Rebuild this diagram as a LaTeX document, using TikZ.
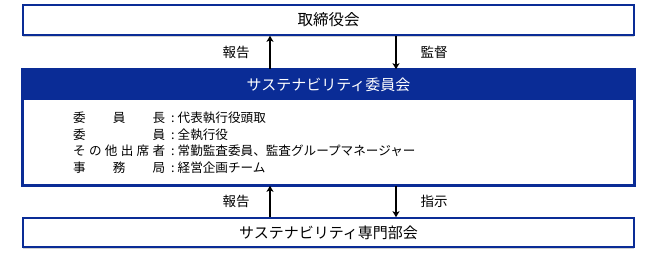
\documentclass[tikz,border=0pt]{standalone}
\usepackage{fontspec}
\usepackage{xcolor}
\usepackage{tikz}
\usetikzlibrary{arrows.meta,positioning,calc,shadows}
\setmainfont{Noto Sans CJK JP}
\definecolor{cmteblue}{RGB}{10,44,150}
\newcommand{\spreadbox}[1]{\makebox[92pt][s]{#1}}

\begin{document}
\begin{tikzpicture}[x=1pt, y=-1pt, >={Stealth[length=6pt,width=7pt,inset=1.5pt]},
    orgbox/.style={draw=cmteblue, line width=1.6pt, fill=white, minimum width=611pt,
      drop shadow={shadow xshift=0pt, shadow yshift=-1.6pt, fill=black!30, opacity=0.6}},
    arrlabel/.style={font=\fontsize{13.5}{16}\selectfont}]
  \useasboundingbox (0,0) rectangle (645,260);
  \node[orgbox, minimum height=30pt, font=\fontsize{15.5}{18}\selectfont] (board) at (328.5,20) {取締役会};
  \node[orgbox, minimum height=115pt] (cmte) at (328.5,127.5) {};
  \node[fill=cmteblue, text=white, minimum width=611pt, minimum height=31pt, anchor=north,
    inner sep=0pt, font=\fontsize{15}{18}\selectfont] (cmtehead) at (cmte.north) {サステナビリティ委員会};
  \draw[cmteblue, line width=1.6pt] (cmte.north west) rectangle (cmte.south east);
  \node[orgbox, minimum height=29pt, font=\fontsize{15}{18}\selectfont] (sub) at (328.5,232.5) {サステナビリティ専門部会};
  \node[anchor=west, align=left, inner sep=0pt, font=\fontsize{12.6}{16.5}\selectfont] (members) at (73,142.5)
    {\spreadbox{委\hfill 員\hfill 長}\hspace{6pt}:\hspace{3pt}代表執行役頭取\\
     \spreadbox{委\hfill 員}\hspace{6pt}:\hspace{3pt}全執行役\\
     \spreadbox{そ\hfill の\hfill 他\hfill 出\hfill 席\hfill 者}\hspace{6pt}:\hspace{3pt}常勤監査委員、監査グループマネージャー\\
     \spreadbox{事\hfill 務\hfill 局}\hspace{6pt}:\hspace{3pt}経営企画チーム};
  % arrows between the boxes
  \coordinate (upx) at (270,0);
  \coordinate (downx) at (396,0);
  \draw[->, line width=1.5pt] (cmte.north -| upx) -- (board.south -| upx);
  \draw[->, line width=1.5pt] (board.south -| downx) -- (cmte.north -| downx);
  \draw[->, line width=1.5pt] (sub.north -| upx) -- (cmte.south -| upx);
  \draw[->, line width=1.5pt] (cmte.south -| downx) -- (sub.north -| downx);
  \node[arrlabel] (report1) at (236,52) {報告};
  \node[arrlabel] (oversee) at (434,52) {監督};
  \node[arrlabel] (report2) at (236,201) {報告};
  \node[arrlabel] (direct) at (434,201) {指示};
\end{tikzpicture}
\end{document}
